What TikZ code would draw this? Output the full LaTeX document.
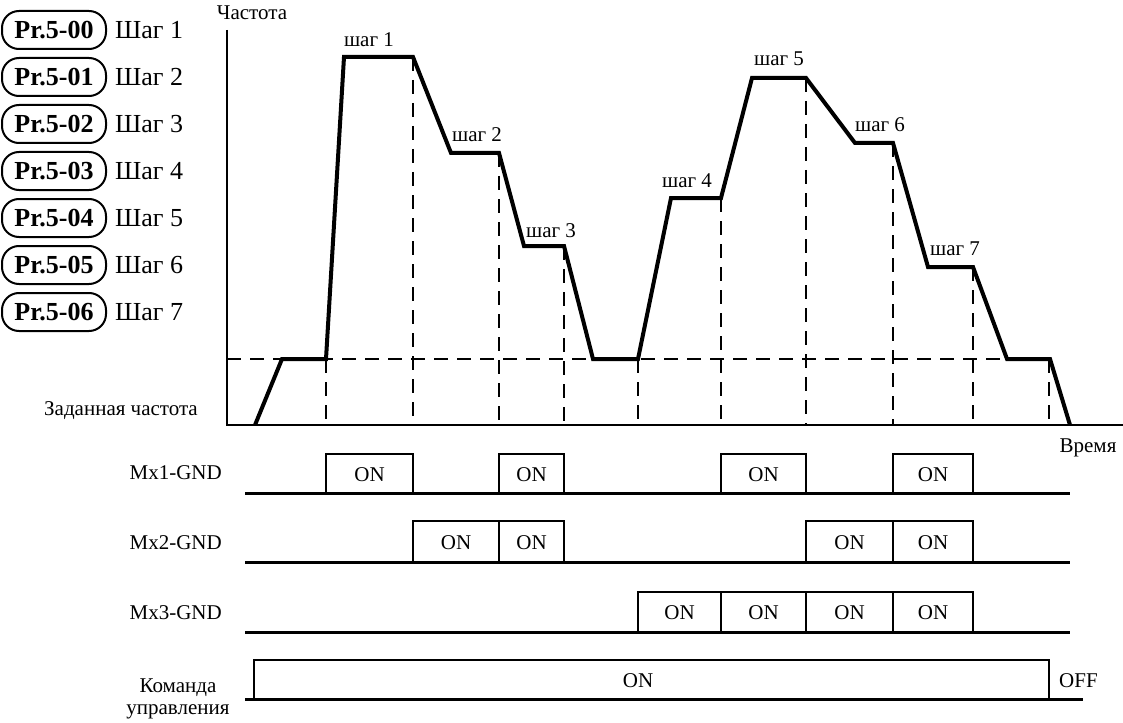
\documentclass[tikz,border=0pt]{standalone}
\usepackage{fontspec}
\setmainfont{Liberation Serif}
\begin{document}
\begin{tikzpicture}[x=1pt,y=-1pt,
  wave/.style={line width=4pt, line join=miter},
  guide/.style={line width=2.5pt, dash pattern=on 14pt off 9pt},
  axis/.style={line width=2pt},
  sig/.style={line width=3pt},
  onbox/.style={line width=2.5pt},
  txt/.style={font=\fontsize{21}{23}\selectfont, inner sep=0pt},
  steplbl/.style={txt, anchor=base},
  prbox/.style={draw, line width=2pt, rounded corners=17pt, minimum width=104pt, minimum height=38pt, inner sep=0pt, font=\fontsize{26}{28}\selectfont\bfseries},
  stepname/.style={font=\fontsize{26}{28}\selectfont, anchor=west, inner sep=0pt}
]
\useasboundingbox (0,0) rectangle (1123,722);

% left legend
\foreach \i/\p/\s in {0/00/1,1/01/2,2/02/3,3/03/4,4/04/5,5/05/6,6/06/7}{
  \node[prbox] (pr\i) at (54,{30+47*\i}) {Pr.5-\p};
  \node[stepname] (st\i) at (115,{30+47*\i}) {Шаг \s};
}

% axes
\coordinate (otop) at (227,30);
\coordinate (o) at (227,425);
\coordinate (xend) at (1123,425);
\draw[axis] (otop) -- (o) -- (xend);
\node[txt, anchor=base] (yl) at (252,20) {Частота};
\node[txt] (xl) at (1088,448) {Время};
\node[txt, anchor=base] (zl) at (121,415) {Заданная частота};

% guides
\draw[guide] (227,359) -- (1003,359);
\foreach \x/\y in {326/359, 413/57, 499/153, 564/246, 638/359, 721/198, 806/78, 893/143, 973/267, 1049/359}
  \draw[guide] (\x,\y) -- (\x,425);

% waveform
\draw[wave] (255,425) -- (282,359) -- (326,359) -- (344,57) -- (413,57) -- (451,153) -- (499,153) -- (524,246) -- (564,246) -- (593,359) -- (638,359) -- (671,198) -- (721,198) -- (752,78) -- (806,78) -- (855,143) -- (893,143) -- (928,267) -- (973,267) -- (1007,359) -- (1050,359) -- (1070,425);

% step labels
\node[steplbl] (s1) at (369,47) {шаг 1};
\node[steplbl] (s2) at (477,142) {шаг 2};
\node[steplbl] (s3) at (551,237) {шаг 3};
\node[steplbl] (s4) at (687,187) {шаг 4};
\node[steplbl] (s5) at (779,66) {шаг 5};
\node[steplbl] (s6) at (880,132) {шаг 6};
\node[steplbl] (s7) at (955,255) {шаг 7};

% timing rows
\foreach \y in {493,562,632} \draw[sig] (245,\y) -- (1070,\y);
\foreach \a/\b/\t/\u in {326/413/454/493, 499/564/454/493, 721/806/454/493, 893/973/454/493,
                          413/499/521/562, 499/564/521/562, 806/893/521/562, 893/973/521/562,
                          638/721/592/632, 721/806/592/632, 806/893/592/632, 893/973/592/632}{
  \draw[onbox] (\a,\u) rectangle (\b,\t);
  \node[txt] at ({(\a+\b)/2},{(\t+\u)/2+1}) {ON};
}
\node[txt, anchor=base east] (m1) at (222,479) {Mx1-GND};
\node[txt, anchor=base east] (m2) at (222,549) {Mx2-GND};
\node[txt, anchor=base east] (m3) at (222,619) {Mx3-GND};

% command
\draw[sig] (245,699) -- (1083,699);
\draw[onbox] (254,699) -- (254,660) -- (1049,660) -- (1049,699);
\node[txt] (con) at (638,681) {ON};
\node[txt, anchor=west] (coff) at (1059,681) {OFF};
\node[txt, anchor=base] (k1) at (178,692) {Команда};
\node[txt, anchor=base] (k2) at (178,714) {управления};
\end{tikzpicture}
\end{document}
